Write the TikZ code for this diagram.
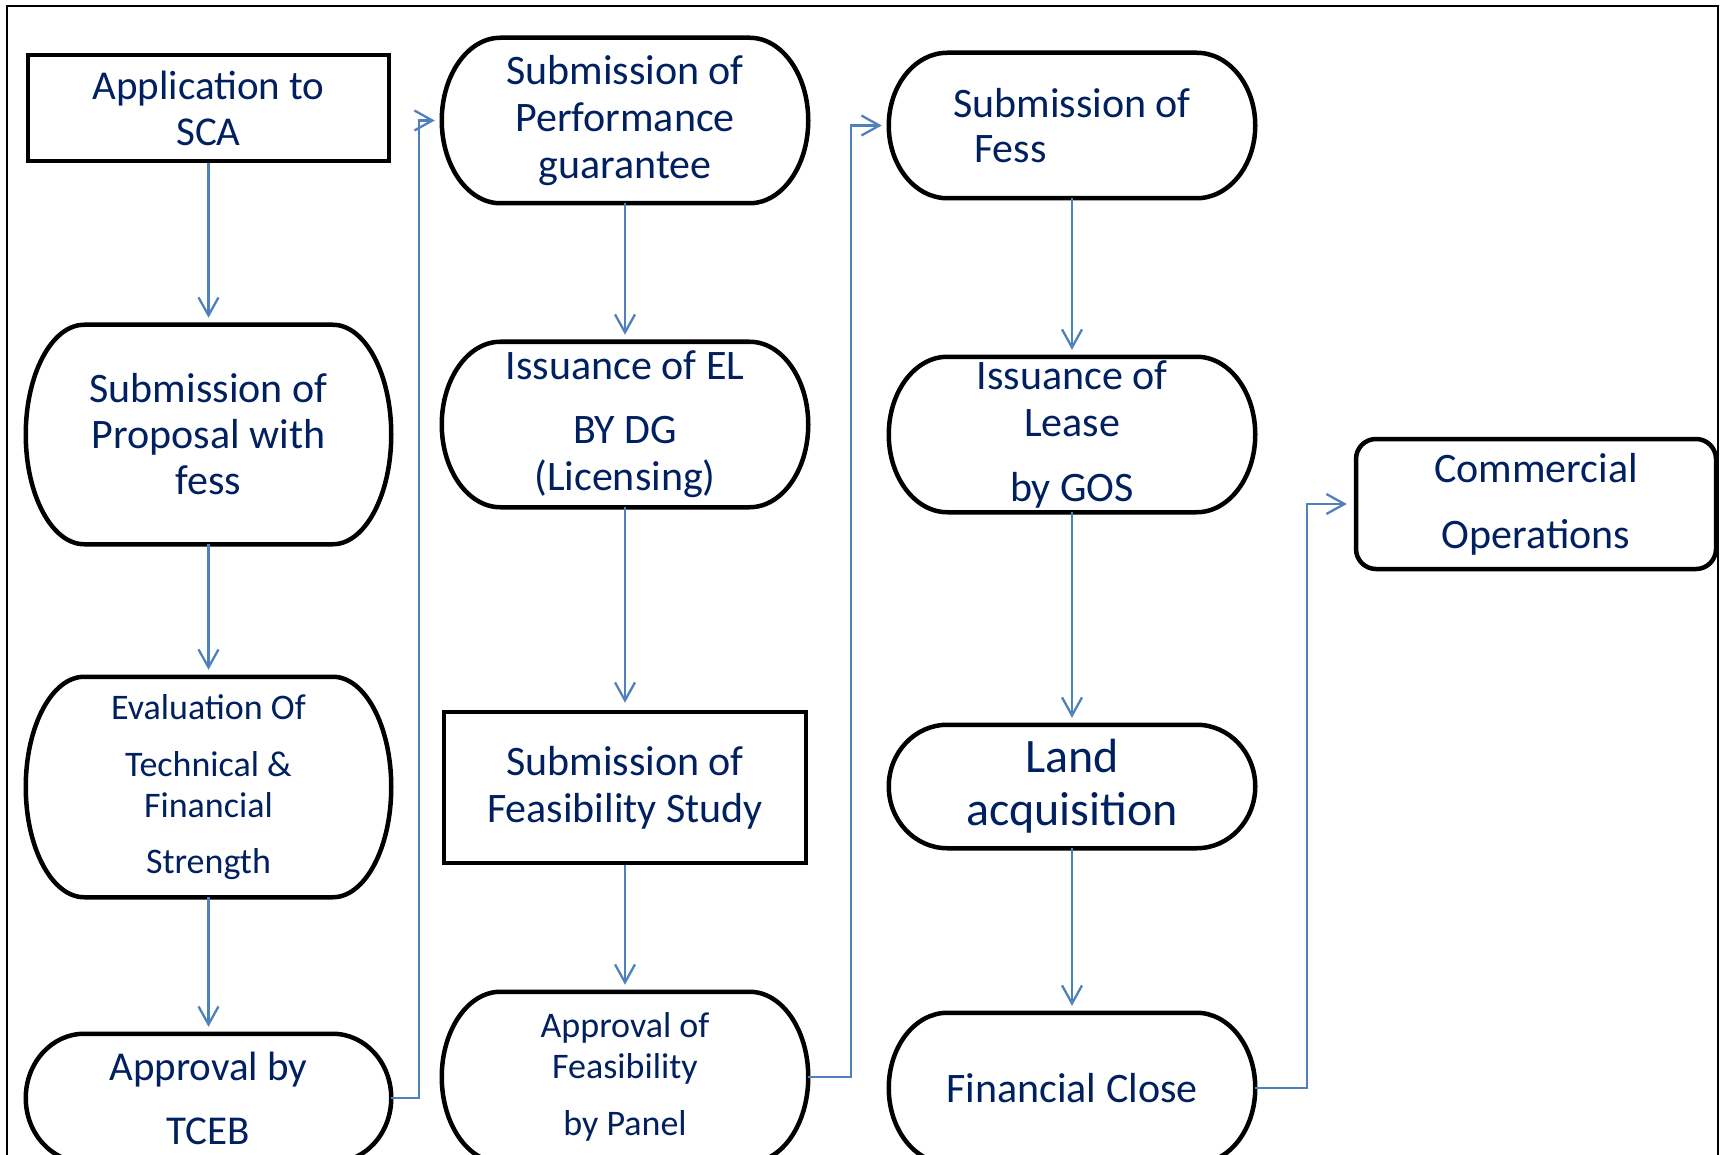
\documentclass[tikz,border=0pt]{standalone}
\usepackage{fontspec}
\setmainfont{Carlito}
\usepackage{tikz}
\usetikzlibrary{calc}
\usetikzlibrary{arrows.meta}

\definecolor{stepnavy}{RGB}{0,32,96}
\definecolor{linkblue}{RGB}{79,129,189}
\newcommand{\fsz}[2]{\fontsize{#1}{#2}\selectfont}

\begin{document}
\begin{tikzpicture}[x=1pt, y=1pt, line width=4.5pt,
	box/.style={draw=none, inner sep=0pt, minimum width=362pt, text=stepnavy, align=center},
	rectbox/.style={box, draw=black},
	termbox/.style={box},
	link/.style={draw=linkblue, line width=2.3pt, -{Straight Barb[length=18pt,width=20pt]}, shorten >=7pt}]
	\useasboundingbox (0,0) rectangle (1723,-1155);
	\draw[line width=2.3pt] (7,-6) rectangle (1718,-1180);

	\node[rectbox, minimum width=361pt, minimum height=106pt, font=\fsz{41}{46}] (app) at (208.5,-108) {Application to\\SCA};
	\node[termbox, minimum width=361pt, minimum height=215pt, font=\fsz{42}{46}] (prop) at (208.5,-434.5) {Submission of\\Proposal with\\fess};
	\node[termbox, minimum width=361pt, minimum height=216pt, font=\fsz{36}{41}] (eval) at (208.5,-787) {Evaluation Of\\[16pt]Technical \&\\Financial\\[15pt]Strength};
	\node[termbox, minimum width=361pt, minimum height=124pt, font=\fsz{41}{47}] (tceb) at (208.5,-1098) {Approval by\\[17pt]TCEB};

	\node[termbox, minimum height=161pt, font=\fsz{42}{47}] (perf) at (625,-120.5) {Submission of\\Performance\\guarantee};
	\node[termbox, minimum height=161pt, font=\fsz{42}{47}] (el) at (625,-424.5) {Issuance of EL\\[17pt]BY DG\\(Licensing)};
	\node[rectbox, minimum height=151pt, font=\fsz{42}{47}] (feas) at (625,-787.5) {Submission of\\Feasibility Study};
	\node[termbox, minimum height=166pt, font=\fsz{36}{41}] (panel) at (625,-1077) {Approval of\\Feasibility\\[16pt]by Panel};

	\node[termbox, minimum height=141pt, font=\fsz{42}{45}, align=left] (fess) at (1072,-125.5) {Submission of\\\hspace*{21pt}Fess};
	\node[termbox, minimum height=151pt, font=\fsz{42}{47}] (lease) at (1072,-434.5) {Issuance of\\Lease\\[18pt]by GOS};
	\node[termbox, minimum height=119pt, font=\fsz{48}{53}] (land) at (1072,-786.5) {Land\\acquisition};
	\node[termbox, minimum height=146pt, font=\fsz{42}{47}] (close) at (1072,-1088) {Financial Close};

	\node[box, draw=black, rounded corners=20pt, minimum width=360pt, minimum height=130pt, font=\fsz{42}{47}] (comm) at (1536,-504) {Commercial\\[19pt]Operations};

	\foreach \nd in {prop,eval,tceb,perf,el,panel,fess,lease,land,close}{
		\draw let \p1=(\nd.north west), \p2=(\nd.south east), \n1={0.16*(\x2-\x1)}, \n2={0.5*(\y1-\y2)} in
			(\x1+\n1,\y1) -- (\x2-\n1,\y1) arc[start angle=90, end angle=-90, x radius=\n1, y radius=\n2]
			-- (\x1+\n1,\y2) arc[start angle=270, end angle=90, x radius=\n1, y radius=\n2] -- cycle;
	}

	\draw[link] (app.south) -- (prop.north);
	\draw[link] (prop.south) -- (eval.north);
	\draw[link] (eval.south) -- (tceb.north);
	\draw[link] (tceb.east) -- ++(27.5,0) |- (perf.west);
	\draw[link] (perf.south) -- (el.north);
	\draw[link] (el.south) -- (feas.north);
	\draw[link] (feas.south) -- (panel.north);
	\draw[link] (panel.east) -- ++(42.5,0) |- (fess.west);
	\draw[link] (fess.south) -- (lease.north);
	\draw[link] (lease.south) -- (land.north);
	\draw[link] (land.south) -- (close.north);
	\draw[link] (close.east) -- ++(51.5,0) |- (comm.west);
\end{tikzpicture}
\end{document}
